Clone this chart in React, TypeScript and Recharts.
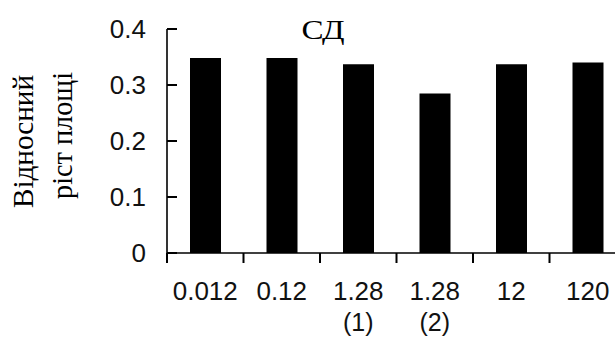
import { Bar, BarChart, Customized, XAxis, YAxis } from "recharts";

const categories = ["0.012", "0.12", "1.28 (1)", "1.28 (2)", "12", "120"];
const labelTop = ["0.012", "0.12", "1.28", "1.28", "12", "120"];
const labelBottom = ["", "", "(1)", "(2)", "", ""];
const growth = [0.348, 0.348, 0.337, 0.285, 0.337, 0.34];
const yTicks = [0, 0.1, 0.2, 0.3, 0.4];
const yTickLabels = ["0", "0.1", "0.2", "0.3", "0.4"];
const title = "СД";
const yTitle = ["Відносний", "ріст площі"];

const data = categories.map((name, i) => ({ name, value: growth[i] }));

const CHART_W = 626;
const CHART_H = 337;
const Y_AXIS_W = 167;
const BAND = (CHART_W - Y_AXIS_W) / categories.length;
const SANS = "'Liberation Sans', Arial, sans-serif";
const SERIF = "'Liberation Serif', 'Times New Roman', serif";
const INK = "#111";
const AXIS = "#000";

// x ticks sit on the category boundaries, labels in the middle of each band
const XTick = ({ x, y, index }: any) => {
  const cx = Number(x);
  const cy = Number(y);
  return (
    <g>
      <rect x={cx - BAND / 2 - 1} y={cy - 10} width={2} height={10} fill={AXIS} />
      {index === categories.length - 1 && <rect x={cx + BAND / 2 - 1} y={cy - 10} width={2} height={10} fill={AXIS} />}
      <text x={cx} y={cy + 37} textAnchor="middle" fontFamily={SANS} fontSize={26} fill={INK}>
        {labelTop[index]}
      </text>
      {labelBottom[index] && (
        <text x={cx} y={cy + 68} textAnchor="middle" fontFamily={SANS} fontSize={25} fill={INK}>
          {labelBottom[index]}
        </text>
      )}
    </g>
  );
};

// y ticks point into the plot
const YTick = ({ x, y, index }: any) => {
  const cx = Number(x);
  const cy = Number(y);
  return (
    <g>
      <rect x={cx + 10} y={cy - 1} width={10} height={2} fill={AXIS} />
      <text x={cx - 11} y={cy} dy="0.36em" textAnchor="end" fontFamily={SANS} fontSize={26} fill={INK}>
        {yTickLabels[index]}
      </text>
    </g>
  );
};

const Titles = () => (
  <g>
    <text x={323} y={39} textAnchor="middle" textLength={43} lengthAdjust="spacingAndGlyphs" fontFamily={SERIF} fontSize={28} fill="#000">
      {title}
    </text>
    <text
      x={33}
      y={141.5}
      textAnchor="middle"
      textLength={133}
      lengthAdjust="spacingAndGlyphs"
      transform="rotate(-90, 33, 141.5)"
      fontFamily={SERIF}
      fontSize={29}
      fill="#000"
    >
      {yTitle[0]}
    </text>
    <text
      x={72}
      y={135.5}
      textAnchor="middle"
      textLength={127}
      lengthAdjust="spacingAndGlyphs"
      transform="rotate(-90, 72, 135.5)"
      fontFamily={SERIF}
      fontSize={29}
      fill="#000"
    >
      {yTitle[1]}
    </text>
  </g>
);

export default function App() {
  return (
    <div
      style={{
        position: "fixed",
        left: 0,
        top: 0,
        width: 615,
        height: 337,
        overflow: "hidden",
        background: "#fff"
      }}
    >
      <BarChart width={CHART_W} height={CHART_H} data={data} margin={{ top: 29, right: 0, left: 0, bottom: 0 }}>
        <XAxis
          dataKey="name"
          height={84}
          interval={0}
          tickSize={10}
          tickMargin={0}
          tickLine={false}
          axisLine={{ stroke: AXIS, strokeWidth: 1.6 }}
          tick={<XTick />}
        />
        <YAxis
          width={Y_AXIS_W}
          domain={[0, 0.4]}
          ticks={yTicks}
          interval={0}
          tickSize={10}
          tickMargin={0}
          tickLine={false}
          axisLine={{ stroke: AXIS, strokeWidth: 1.6 }}
          tick={<YTick />}
        />
        <Bar dataKey="value" fill="#000" barSize={31} isAnimationActive={false} />
        <Customized component={<Titles />} />
      </BarChart>
    </div>
  );
}
